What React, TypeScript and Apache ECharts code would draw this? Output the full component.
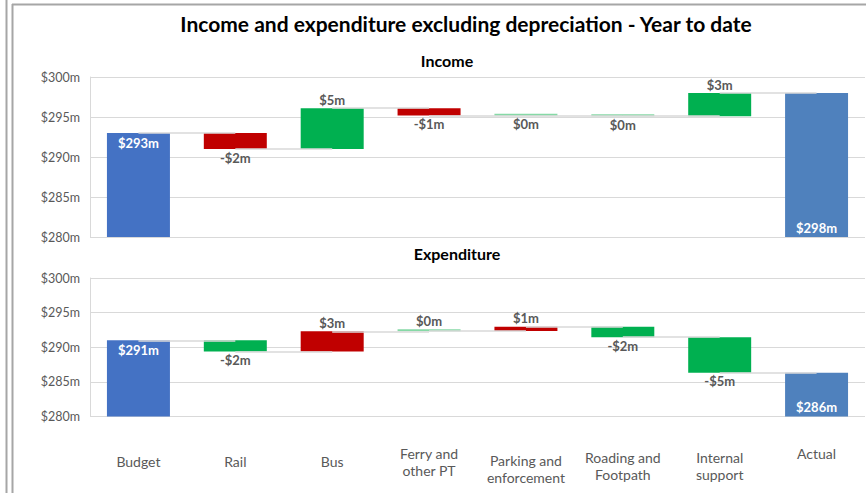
import React, { useEffect, useRef } from "react";
import * as echarts from "echarts";

const categories: string[] = [
  "Budget",
  "Rail",
  "Bus",
  "Ferry and\nother PT",
  "Parking and\nenforcement",
  "Roading and\nFootpath",
  "Internal\nsupport",
  "Actual",
];

const incomeBudget = 293;
const incomeChanges: number[] = [-2.0, 5.1, -0.9, -0.05, -0.05, 2.9];
const incomeActual = 298;

const expenditureBudget = 291;
const expenditureChanges: number[] = [-1.6, 2.9, 0.05, 0.6, -1.5, -5.15];
const expenditureActual = 286.3;

const yTicks = { min: 280, max: 300, interval: 5 };

const FONT = "Lato, 'Open Sans', sans-serif";
const GREEN = "#00B050";
const LIGHT_GREEN = "#86D9A6";
const RED = "#C00000";
const LABEL_GRAY = "#595959";

function fmtChange(c: number): string {
  const r = Math.round(Math.abs(c));
  return (c < 0 && r !== 0 ? "-" : "") + "$" + r + "m";
}

function buildSeries(
  budget: number,
  changes: number[],
  actual: number,
  upIsGood: boolean,
  gridIndex: number,
  budgetColor: string,
  actualColor: string
) {
  const base: number[] = [0];
  const visible: any[] = [
    {
      value: budget,
      itemStyle: { color: budgetColor },
      label: {
        position: "insideTop",
        color: "#fff",
        formatter: "$" + Math.round(budget) + "m",
        distance: 3,
      },
    },
  ];
  const levels: number[] = [budget];
  let level = budget;
  changes.forEach((c) => {
    const prev = level;
    level = level + c;
    levels.push(level);
    base.push(Math.min(prev, level));
    const tiny = Math.abs(c) < 0.5;
    const good = upIsGood ? c > 0 : c < 0;
    const color = tiny ? LIGHT_GREEN : good ? GREEN : RED;
    visible.push({
      value: Math.abs(c),
      itemStyle: { color },
      label: {
        position: c >= 0 ? "top" : "bottom",
        color: LABEL_GRAY,
        formatter: fmtChange(c),
        distance: 2,
      },
    });
  });
  base.push(0);
  visible.push({
    value: actual,
    itemStyle: { color: actualColor },
    label: {
      position: "insideBottom",
      color: "#fff",
      formatter: "$" + Math.round(actual) + "m",
      distance: 3,
    },
  });
  const connectors: any[] = [];
  for (let i = 0; i < levels.length; i++) {
    connectors.push([
      { coord: [i, levels[i]] },
      { coord: [i + 1, i === levels.length - 1 ? actual : levels[i]] },
    ]);
  }
  const stack = "s" + gridIndex;
  return [
    {
      type: "bar",
      xAxisIndex: gridIndex,
      yAxisIndex: gridIndex,
      stack,
      z: 1,
      barCategoryGap: "35%",
      itemStyle: { color: "transparent" },
      emphasis: { disabled: true },
      silent: true,
      data: base,
      markLine: {
        silent: true,
        symbol: "none",
        label: { show: false },
        lineStyle: { color: "#D9D9D9", width: 1.5, type: "solid" },
        data: connectors,
      },
    },
    {
      type: "bar",
      xAxisIndex: gridIndex,
      yAxisIndex: gridIndex,
      stack,
      z: 3,
      barCategoryGap: "35%",
      barMinHeight: 2,
      label: {
        show: true,
        fontFamily: FONT,
        fontSize: 13,
        fontWeight: "bold",
      },
      data: visible,
    },
  ];
}

export default function App() {
  const ref = useRef<HTMLDivElement>(null);
  useEffect(() => {
    if (!ref.current) return;
    const chart = echarts.init(ref.current, undefined, { renderer: "svg" });
    const xLabelPadTop: Record<string, number> = {
      Budget: 8,
      Rail: 8,
      Bus: 8,
      "Ferry and\nother PT": 0,
      "Parking and\nenforcement": 7,
      "Roading and\nFootpath": 4,
      "Internal\nsupport": 4,
      Actual: 0,
    };
    const xData = categories.map((c) => ({
      value: c,
      textStyle: {
        verticalAlign: "top",
        padding: [xLabelPadTop[c] || 0, 0, 0, 0],
      },
    }));
    const yAxisCommon = (gridIndex: number) => ({
      type: "value",
      gridIndex,
      min: yTicks.min,
      max: yTicks.max,
      interval: yTicks.interval,
      axisLine: { show: true, lineStyle: { color: "#D9D9D9" } },
      axisTick: { show: false },
      splitLine: { lineStyle: { color: "#D9D9D9", width: 1 } },
      axisLabel: {
        formatter: "${value}m",
        color: LABEL_GRAY,
        fontFamily: FONT,
        fontSize: 12.5,
        margin: 10,
      },
    });
    const option: any = {
      animation: false,
      backgroundColor: "#fff",
      title: [
        {
          text: "Income and expenditure excluding depreciation - Year to date",
          left: 461,
          top: 8,
          textAlign: "center",
          textStyle: { fontFamily: FONT, fontSize: 21, fontWeight: "bold", color: "#000" },
        },
        {
          text: "Income",
          left: 442,
          top: 47,
          textAlign: "center",
          textStyle: { fontFamily: FONT, fontSize: 16, fontWeight: "bold", color: "#000" },
        },
        {
          text: "Expenditure",
          left: 452,
          top: 240,
          textAlign: "center",
          textStyle: { fontFamily: FONT, fontSize: 16, fontWeight: "bold", color: "#000" },
        },
      ],
      grid: [
        { left: 90, right: 1, top: 77, height: 160, outerBoundsMode: "none" },
        { left: 90, right: 1, top: 278, height: 138.5, outerBoundsMode: "none" },
      ],
      xAxis: [
        {
          type: "category",
          gridIndex: 0,
          data: categories,
          axisLine: { show: false },
          axisTick: { show: false },
          axisLabel: { show: false },
        },
        {
          type: "category",
          gridIndex: 1,
          data: xData,
          axisLine: { show: false },
          axisTick: { show: false },
          axisLabel: {
            color: LABEL_GRAY,
            fontFamily: FONT,
            fontSize: 14,
            lineHeight: 17,
            verticalAlign: "top",
            margin: 28,
            interval: 0,
            hideOverlap: false,
          },
        },
      ],
      yAxis: [yAxisCommon(0), yAxisCommon(1)],
      series: [
        ...buildSeries(incomeBudget, incomeChanges, incomeActual, true, 0, "#4472C4", "#4F81BD"),
        ...buildSeries(
          expenditureBudget,
          expenditureChanges,
          expenditureActual,
          false,
          1,
          "#4472C4",
          "#4F81BD"
        ),
      ],
      graphic: [
        { type: "line", shape: { x1: 6.5, y1: 0, x2: 6.5, y2: 493 }, style: { stroke: "#A6A6A6", lineWidth: 2 } },
        { type: "line", shape: { x1: 12.5, y1: 4, x2: 12.5, y2: 493 }, style: { stroke: "#A6A6A6", lineWidth: 2 } },
        { type: "line", shape: { x1: 12, y1: 4.5, x2: 866, y2: 4.5 }, style: { stroke: "#A6A6A6", lineWidth: 2 } },
      ],
    };
    chart.setOption(option);
    return () => chart.dispose();
  }, []);
  return (
    <div
      ref={ref}
      style={{ position: "absolute", left: 0, top: 0, width: 866, height: 493 }}
    />
  );
}
